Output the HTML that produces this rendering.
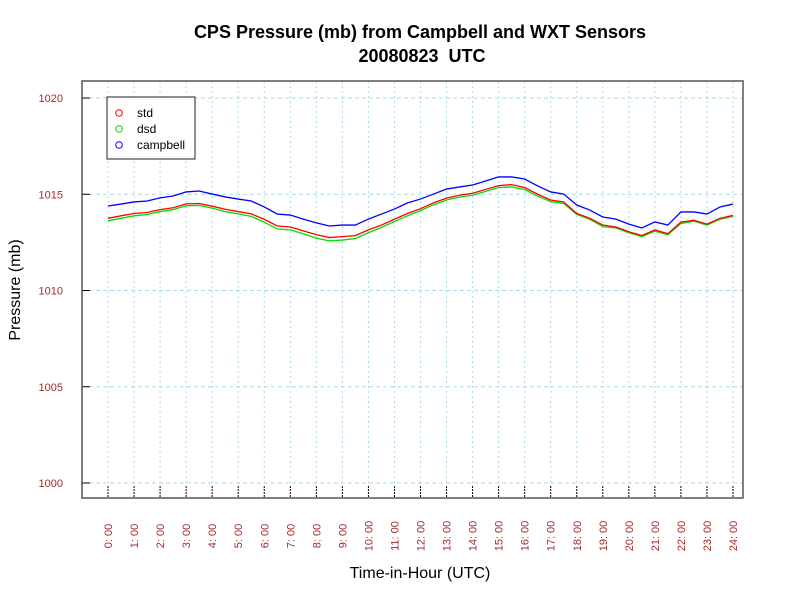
<!DOCTYPE html>
<html><head><meta charset="utf-8"><style>
body{margin:0;background:#fff;font-family:"Liberation Sans",sans-serif}
svg text{font-family:"Liberation Sans",sans-serif}
</style></head><body>
<svg id="chart" width="800" height="600">
<text x="420" y="38" text-anchor="middle" font-size="18" font-weight="bold">CPS Pressure (mb) from Campbell and WXT Sensors</text>
<text x="422" y="62" text-anchor="middle" font-size="18" font-weight="bold" style="white-space:pre">20080823  UTC</text>
<text x="420" y="578" text-anchor="middle" font-size="16">Time-in-Hour (UTC)</text>
<text transform="translate(20,290) rotate(-90)" text-anchor="middle" font-size="16">Pressure (mb)</text>
<g id="grid"></g><g id="ticks"></g><g id="series"></g>
<rect x="82" y="81" width="661" height="417" fill="none" stroke="#555" stroke-width="1.5"/>
<g>
<rect x="107" y="97" width="88" height="62" fill="#fff" stroke="#222" stroke-width="1"/>
<circle cx="119" cy="113" r="3.3" fill="none" stroke="#f00"/><text x="137" y="117" font-size="12">std</text>
<circle cx="119" cy="129" r="3.3" fill="none" stroke="#0d0"/><text x="137" y="133" font-size="12">dsd</text>
<circle cx="119" cy="145" r="3.3" fill="none" stroke="#00f"/><text x="137" y="149" font-size="12">campbell</text>
</g>
</svg>
<script>
const hours=[0,0.5,1,1.5,2,2.5,3,3.5,4,4.5,5,5.5,6,6.5,7,7.5,8,8.5,9,9.5,10,10.5,11,11.5,12,12.5,13,13.5,14,14.5,15,15.5,16,16.5,17,17.5,18,18.5,19,19.5,20,20.5,21,21.5,22,22.5,23,23.5,24];
const campbell=[1014.39,1014.49,1014.6,1014.65,1014.81,1014.91,1015.12,1015.17,1015.01,1014.86,1014.75,1014.65,1014.34,1013.97,1013.92,1013.71,1013.51,1013.35,1013.4,1013.4,1013.71,1013.97,1014.23,1014.55,1014.75,1015.01,1015.27,1015.38,1015.48,1015.69,1015.9,1015.9,1015.79,1015.43,1015.12,1015.01,1014.44,1014.18,1013.82,1013.71,1013.45,1013.25,1013.56,1013.4,1014.08,1014.08,1013.97,1014.34,1014.49];
const std=[1013.75,1013.88,1014.0,1014.05,1014.2,1014.3,1014.5,1014.52,1014.38,1014.22,1014.1,1013.98,1013.7,1013.35,1013.3,1013.1,1012.9,1012.75,1012.8,1012.85,1013.15,1013.4,1013.7,1014.0,1014.25,1014.55,1014.8,1014.95,1015.05,1015.25,1015.45,1015.5,1015.35,1015.0,1014.7,1014.6,1014.0,1013.75,1013.4,1013.3,1013.05,1012.85,1013.15,1012.95,1013.55,1013.65,1013.45,1013.75,1013.9];
const dsd=[1013.62,1013.75,1013.88,1013.95,1014.1,1014.2,1014.4,1014.42,1014.28,1014.1,1013.98,1013.85,1013.55,1013.2,1013.15,1012.95,1012.72,1012.58,1012.62,1012.7,1013.0,1013.28,1013.58,1013.88,1014.15,1014.45,1014.7,1014.85,1014.95,1015.15,1015.35,1015.38,1015.25,1014.9,1014.62,1014.52,1013.95,1013.7,1013.32,1013.25,1013.0,1012.8,1013.08,1012.9,1013.48,1013.6,1013.4,1013.7,1013.85];
const yTicks=[1000,1005,1010,1015,1020];
const xTicks=[0,1,2,3,4,5,6,7,8,9,10,11,12,13,14,15,16,17,18,19,20,21,22,23,24];
const NS='http://www.w3.org/2000/svg';
const X=h=>108+h*(733-108)/24;
const Y=v=>483-(v-1000)*(483-98)/20;
function mk(tag,attrs,parent){const e=document.createElementNS(NS,tag);for(const k in attrs)e.setAttribute(k,attrs[k]);document.getElementById(parent).appendChild(e);return e;}
yTicks.forEach(v=>{
 const g=mk('line',{x1:82,x2:743,y1:Y(v),y2:Y(v),stroke:'#add8e6','stroke-dasharray':'4,3'},'grid');
 
 
 mk('line',{x1:82,x2:90,y1:Y(v),y2:Y(v),stroke:'#000'},'ticks');
 const t=mk('text',{x:63,y:Y(v)+4,'text-anchor':'end','font-size':'11',fill:'#a52a2a'},'ticks');
 t.textContent=v;
 
 
});
xTicks.forEach(h=>{
 const g=mk('line',{x1:X(h),x2:X(h),y1:81,y2:486,stroke:'#add8e6','stroke-dasharray':'2,3'},'grid');
 
 
 mk('line',{x1:X(h),x2:X(h),y1:486,y2:497,stroke:'#000','stroke-dasharray':'2,1'},'ticks');
 const t=mk('text',{transform:`translate(${X(h)+4},536) rotate(-90)`,'text-anchor':'middle','font-size':'11',fill:'#a52a2a'},'ticks');
 t.textContent=h+': 00';
 
 
});
[[dsd,'#00dd00','dsd-line'],[std,'#ff0000','std-line'],[campbell,'#0000ff','campbell-line']].forEach(([arr,c,n])=>{
 const p=mk('polyline',{points:arr.map((v,i)=>X(hours[i])+','+Y(v)).join(' '),fill:'none',stroke:c,'stroke-width':1.3},'series');
 
 
});
</script>
</body></html>
